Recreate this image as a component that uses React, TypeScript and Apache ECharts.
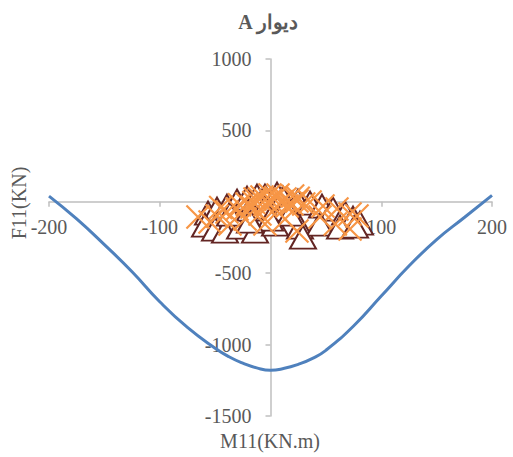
import React, { useEffect, useRef } from "react";
import * as echarts from "echarts";

// Interaction curve (M11, F11)
const curveM = [-200, -175, -150, -125, -100, -75, -50, -37.5, -25, -12.5, 0, 12.5, 25, 37.5, 50, 75, 100, 125, 150, 175, 200];
const curveF = [40, -120, -300, -490, -700, -880, -1025, -1085, -1130, -1163, -1180, -1166, -1138, -1098, -1040, -870, -660, -450, -265, -110, 45];

// Triangle markers
const triM = [24.8, 35.7, 46.5, 56.4, 67.3, 74.5, 80.8, -56.4, -48.3, -39.3, -30.2, -21.2, -12.2, -5, 5.9, 11.3,
  -59.1, -50.1, -41.1, -27.5, -14, 4.1, 26.6, 44.7, 62.8, 76.3, 29.3, -36.6, -18.5, -5, 13.1, 17.6, -0.5, -18.5];
const triF = [5, -9, -30, -51, -79, -114, -149, -79, -51, -30, 5, 26, 40, 40, 54, 26,
  -163, -191, -205, -177, -205, -156, -177, -156, -177, -170, -247, -86, -51, -37, -51, -86, -121, -135];

// X markers
const crossM = [-65.5, -54.6, -48.3, -39.3, -30.2, -21.2, -14, -7.7, -0.5, 6.8, 13.1, 19.4, 23.9, 35.7, 47.4, 60, 71.8,
  78.1, 71.8, 23.9, -9.5, 4.1, -23, -36.6, -5, 13.1, 44.7, 58.5, -16.7,
  -10, 0, 10, -5, 15, 5, 20, -15, 30, 25, -28, -45];
const crossF = [-107, -142, -100, -72, -51, -16, 19, 33, 47, 47, 19, -16, 5, -2, -30, -51, -86,
  -100, -191, -205, -86, -51, -121, -156, -156, -121, -107, -156, -37,
  20, 10, 0, -20, -30, 30, 40, -5, -15, 25, -20, -40];

const xTicks = { min: -200, max: 200, interval: 100 };
const yTicks = { min: -1500, max: 1000, interval: 500 };

const titleText = "A دیوار";
const xName = "M11(KN.m)";
const yName = "F11(KN)";

const FONT = '"Liberation Serif", "Times New Roman", serif';

const GRID = { left: 49, right: 21, top: 59, bottom: 41 };
const W = 513;
const H = 457;

export default function App() {
  const ref = useRef<HTMLDivElement>(null);
  useEffect(() => {
    if (!ref.current) return;
    const chart = echarts.init(ref.current, undefined, { renderer: "svg" });
    const gw = W - GRID.left - GRID.right;
    const gh = H - GRID.top - GRID.bottom;
    // axes cross at zero: shift the axes by offsets computed from the ranges
    const yZeroFromBottom = gh * (0 - yTicks.min) / (yTicks.max - yTicks.min);
    const xZeroFromLeft = gw * (0 - xTicks.min) / (xTicks.max - xTicks.min);
    const axisCommon = {
      type: "value" as const,
      axisLine: { onZero: false, lineStyle: { color: "#BFBFBF", width: 1.5 } },
      axisTick: { show: true, length: 5, lineStyle: { color: "#BFBFBF", width: 1.5 } },
      splitLine: { show: false },
      axisLabel: { color: "#595959", fontSize: 20, fontFamily: FONT, formatter: (v: number) => String(v) },
    };
    chart.setOption({
      animation: false,
      backgroundColor: "#ffffff",
      grid: { ...GRID, containLabel: false, outerBoundsMode: "none" },
      xAxis: { ...axisCommon, ...xTicks, position: "bottom", offset: -yZeroFromBottom, axisLabel: { ...axisCommon.axisLabel, margin: 15 } },
      yAxis: { ...axisCommon, ...yTicks, position: "left", offset: -xZeroFromLeft, axisLabel: { ...axisCommon.axisLabel, margin: 19 } },
      graphic: [
        {
          type: "text", x: 268, y: 22,
          style: { text: titleText, fill: "#595959", font: `bold 20px ${FONT}`, textAlign: "center", textVerticalAlign: "middle" },
        },
        {
          type: "text", x: 270, y: 441,
          style: { text: xName, fill: "#595959", font: `20px ${FONT}`, textAlign: "center", textVerticalAlign: "middle" },
        },
        {
          type: "text", x: 19, y: 203, rotation: Math.PI / 2,
          style: { text: yName, fill: "#595959", font: `20px ${FONT}`, textAlign: "center", textVerticalAlign: "middle" },
        },
      ],
      series: [
        {
          type: "line",
          data: curveM.map((m, i) => [m, curveF[i]]),
          smooth: true,
          showSymbol: false,
          lineStyle: { color: "#4F81BD", width: 3 },
          z: 2,
        },
        {
          type: "scatter",
          data: triM.map((m, i) => [m, triF[i]]),
          symbol: "triangle",
          symbolSize: [26, 23],
          itemStyle: { color: "#ffffff", borderColor: "#632523", borderWidth: 2, opacity: 1 },
          z: 3,
        },
        {
          type: "scatter",
          data: crossM.map((m, i) => [m, crossF[i]]),
          symbol: "path://M0,0L20,20M20,0L0,20",
          symbolSize: [23, 23],
          itemStyle: { color: "rgba(0,0,0,0)", borderColor: "#F79646", borderWidth: 2.2, opacity: 1 },
          z: 4,
        },
      ],
    });
    return () => chart.dispose();
  }, []);
  return <div ref={ref} style={{ width: W, height: H, position: "absolute", left: 0, top: 0 }} />;
}
